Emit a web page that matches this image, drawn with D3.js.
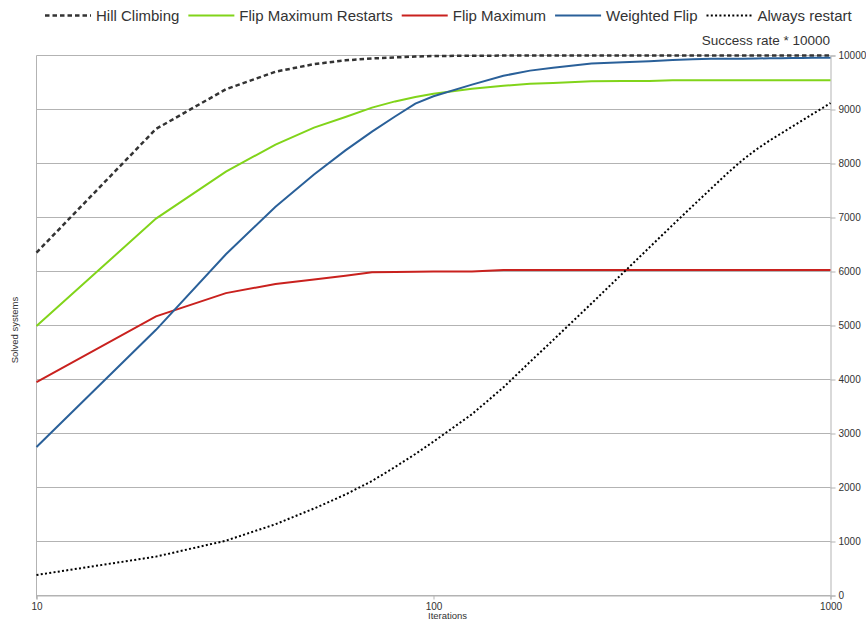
<!DOCTYPE html>
<html>
<head>
<meta charset="utf-8">
<script src="https://cdn.jsdelivr.net/npm/d3@7"></script>
<style>
  body { margin: 0; background: #fff; }
  text { font-family: "Liberation Sans", Arial, sans-serif; }
</style>
</head>
<body>
<svg id="chart" width="866" height="621"></svg>
<script>

var iterations = [10, 20, 30, 40, 50, 60, 70, 80, 90, 100, 125, 150, 175, 200,
                  250, 300, 350, 400, 450, 500, 550, 600, 650, 700, 750, 800, 850, 900, 950, 1000];

var hillClimbing = [6350, 8640, 9375, 9700, 9840, 9910, 9945, 9965, 9980, 9990, 9996, 9998, 9999, 10000,
                    10000, 10000, 10000, 10000, 10000, 10000, 10000, 10000, 10000, 10000, 10000, 10000, 10000, 10000, 10000, 10000];

var flipMaxRestarts = [4990, 6980, 7850, 8350, 8665, 8860, 9035, 9150, 9233, 9290, 9385, 9440, 9475, 9490,
                       9525, 9528, 9530, 9540, 9540, 9540, 9540, 9540, 9540, 9540, 9540, 9540, 9540, 9540, 9540, 9540];

var flipMax = [3950, 5170, 5600, 5770, 5853, 5923, 5985, 5990, 5995, 6000, 6000, 6030, 6030, 6030,
               6030, 6030, 6030, 6030, 6030, 6030, 6030, 6030, 6030, 6030, 6030, 6030, 6030, 6030, 6030, 6030];

var weightedFlip = [2750, 4920, 6320, 7200, 7795, 8243, 8590, 8870, 9110, 9245, 9460, 9625, 9720, 9775,
                    9850, 9875, 9895, 9915, 9930, 9938, 9940, 9942, 9945, 9948, 9950, 9952, 9955, 9957, 9958, 9960];

var alwaysRestart = [380, 720, 1015, 1320, 1610, 1870, 2120, 2380, 2620, 2850, 3357, 3854, 4326, 4728,
                     5408, 5971, 6447, 6859, 7216, 7533, 7820, 8063, 8258, 8418, 8553, 8680, 8799, 8913, 9016, 9120];

var seriesNames = ['Hill Climbing', 'Flip Maximum Restarts', 'Flip Maximum', 'Weighted Flip', 'Always restart'];
var yTicks = [0, 1000, 2000, 3000, 4000, 5000, 6000, 7000, 8000, 9000, 10000];
var xTicks = [10, 100, 1000];

var series = [
    {'name': seriesNames[0], 'values': hillClimbing,    'color': '#333333', 'width': 2.5, 'dash': '4.5,3'},
    {'name': seriesNames[1], 'values': flipMaxRestarts, 'color': '#81d41a', 'width': 2,   'dash': null},
    {'name': seriesNames[2], 'values': flipMax,         'color': '#c9211e', 'width': 2,   'dash': null},
    {'name': seriesNames[3], 'values': weightedFlip,    'color': '#2a6099', 'width': 2,   'dash': null},
    {'name': seriesNames[4], 'values': alwaysRestart,   'color': '#000000', 'width': 2,   'dash': '2,2.3'}
];

var plotLeft = 36.5, plotRight = 830.5, plotTop = 55.5, plotBottom = 595.5;

var svg = d3.select('#chart');

var x = d3.scaleLog().domain([10, 1000]).range([plotLeft, plotRight]);
var y = d3.scaleLinear().domain([0, 10000]).range([plotBottom, plotTop]);

// horizontal grid
svg.append('g')
    .selectAll('line')
    .data(yTicks)
    .enter().append('line')
    .attr('x1', plotLeft).attr('x2', plotRight)
    .attr('y1', function(d) { return y(d); })
    .attr('y2', function(d) { return y(d); })
    .attr('stroke', '#b3b3b3')
    .attr('stroke-width', 1);

// left border
svg.append('line')
    .attr('x1', plotLeft).attr('x2', plotLeft)
    .attr('y1', plotTop).attr('y2', plotBottom + 3)
    .attr('stroke', '#b3b3b3');

var yAxis = svg.append('g')
    .attr('transform', 'translate(' + plotRight + ',0)')
    .call(d3.axisRight(y).tickValues(yTicks).tickSize(5).tickPadding(3).tickFormat(d3.format('d')));

var xAxis = svg.append('g')
    .attr('transform', 'translate(0,' + plotBottom + ')')
    .call(d3.axisBottom(x).tickValues(xTicks).tickSize(4).tickPadding(3).tickFormat(d3.format('d')));

[yAxis, xAxis].forEach(function(axis) {
    axis.select('.domain').attr('stroke', '#b3b3b3');
    axis.selectAll('.tick line').attr('stroke', '#b3b3b3');
    axis.selectAll('.tick text')
        .attr('fill', '#333333')
        .style('font-size', '10px')
        .style('font-family', '"Liberation Sans", Arial, sans-serif');
});

var line = d3.line()
    .x(function(d, i) { return x(iterations[i]); })
    .y(function(d) { return y(d); });

series.forEach(function(s) {
    svg.append('path')
        .attr('d', line(s.values))
        .attr('fill', 'none')
        .attr('stroke', s.color)
        .attr('stroke-width', s.width)
        .attr('stroke-dasharray', s.dash);
});

// legend
var lx = 45;
series.forEach(function(s) {
    svg.append('line')
        .attr('x1', lx).attr('x2', lx + 46)
        .attr('y1', 15.5).attr('y2', 15.5)
        .attr('stroke', s.color)
        .attr('stroke-width', s.width)
        .attr('stroke-dasharray', s.dash);
    var t = svg.append('text')
        .attr('x', lx + 51)
        .attr('y', 21)
        .attr('fill', '#333333')
        .style('font-size', '15px')
        .text(s.name);
    lx = lx + 51 + t.node().getComputedTextLength() + 9;
});

svg.append('text')
    .attr('x', 830)
    .attr('y', 45)
    .attr('text-anchor', 'end')
    .attr('fill', '#333333')
    .style('font-size', '13.5px')
    .text('Success rate * 10000');

svg.append('text')
    .attr('transform', 'translate(18,330) rotate(-90)')
    .attr('text-anchor', 'middle')
    .attr('fill', '#333333')
    .style('font-size', '9.5px')
    .text('Solved systems');

svg.append('text')
    .attr('x', 428)
    .attr('y', 619)
    .attr('fill', '#333333')
    .style('font-size', '9.5px')
    .text('Iterations');

</script>
</body>
</html>
